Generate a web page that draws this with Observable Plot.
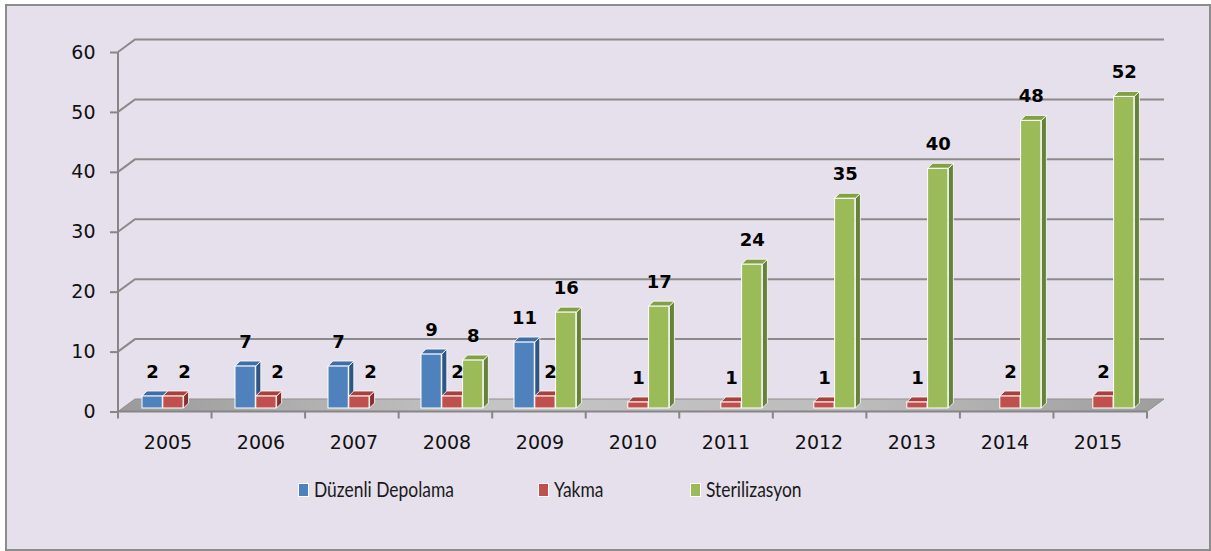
<!DOCTYPE html>
<html>
<head>
<meta charset="utf-8">
<script src="https://cdn.jsdelivr.net/npm/d3@7"></script>
<script src="https://cdn.jsdelivr.net/npm/@observablehq/plot@0.6"></script>
<style>
  html, body { margin: 0; padding: 0; background: #ffffff; }
  body { width: 1211px; height: 551px; position: relative; overflow: hidden; }
  #frame { position: absolute; left: 5px; top: 4px; width: 1202px; height: 543px;
           border: 2px solid #8c8c8c; background: #e5e0ec; }
  #chart { position: absolute; left: 0; top: 0; }
  #chart svg g[aria-label="y-axis tick"] { stroke: #868686; stroke-width: 2px; }
  #legend { position: absolute; top: 477px; left: 0; width: 1211px; height: 24px;
            font-family: Lato, sans-serif; font-size: 20.5px; color: #1a1a1a; }
  .item { position: absolute; top: 0; white-space: nowrap; line-height: 24px; }
  .sw { position: absolute; top: 6px; width: 9px; height: 12px; border: 1px solid #fff; }
  .lab { position: absolute; left: 16px; top: 0; transform: scaleX(0.85); transform-origin: 0 50%; }
</style>
</head>
<body>
<div id="frame"></div>
<div id="chart"></div>
<div id="legend"></div>
<script>
// ---- data ----
const years = ["2005","2006","2007","2008","2009","2010","2011","2012","2013","2014","2015"];
const series = ["Düzenli Depolama", "Yakma", "Sterilizasyon"];
const duzenliDepolama = [2, 7, 7, 9, 11, null, null, null, null, null, null];
const yakma           = [2, 2, 2, 2, 2, 1, 1, 1, 1, 2, 2];
const sterilizasyon   = [null, null, null, 8, 16, 17, 24, 35, 40, 48, 52];
const yTicks = [0, 10, 20, 30, 40, 50, 60];

// ---- style ----
const colors = {
  front: ["#4f81bd", "#c0504d", "#9bbb59"],
  top:   ["#3f6ea6", "#a8403d", "#83a047"],
  side:  ["#2f5583", "#84302e", "#66813a"]
};
const W = 1211, H = 470;
const mL = 118, mR = 64, mT = 52, mB = 58.5;
const bw = (W - mL - mR) / years.length;   // band width
const slot0 = 21, slotW = 20.8;             // bar slots inside a band
const lift = 3.5;                           // bars stand slightly back on the floor
const DX = 17, DY = -12.5;                  // wall depth
const bdx = 5, bdy = -5;                    // bar depth

const valuesBySeries = [duzenliDepolama, yakma, sterilizasyon];
const rows = years.flatMap((yr, i) => series.map((s, j) => ({
  year: yr, series: s, idx: j, value: valuesBySeries[j][i], yi: i
}))).filter(d => d.value != null);

function bars(j) { return rows.filter(d => d.idx === j); }

// back wall, floor, axis lines
function scene(index, scales) {
  const x = scales.x, y = scales.y;
  const [x0, x1] = x.range();
  const y0 = y(0);
  const g = d3.create("svg:g");
  const defs = g.append("defs");
  const grad = defs.append("linearGradient").attr("id", "floorGrad")
    .attr("x1", "0").attr("y1", "0").attr("x2", "1").attr("y2", "0");
  grad.append("stop").attr("offset", "0").attr("stop-color", "#9a9a9a");
  grad.append("stop").attr("offset", "0.35").attr("stop-color", "#c4c4c4");
  grad.append("stop").attr("offset", "0.7").attr("stop-color", "#bdbdbd");
  grad.append("stop").attr("offset", "1").attr("stop-color", "#9e9e9e");
  // gridlines on back wall
  for (const v of yTicks.filter(v => v > 0)) {
    g.append("path")
      .attr("d", `M${x0},${y(v)}L${x0 + DX},${y(v) + DY}L${x1 + DX},${y(v) + DY}`)
      .attr("fill", "none").attr("stroke", "#8a8a8a").attr("stroke-width", 2);
  }
  // floor
  g.append("path")
    .attr("d", `M${x0},${y0}L${x1},${y0}L${x1 + DX},${y0 + DY}L${x0 + DX},${y0 + DY}Z`)
    .attr("fill", "url(#floorGrad)").attr("stroke", "#8f8f8f").attr("stroke-width", 1);
  // axes lines
  g.append("path").attr("d", `M${x0},${y(yTicks[yTicks.length - 1])}L${x0},${y0 + 1}`)
    .attr("stroke", "#868686").attr("stroke-width", 2);
  g.append("path").attr("d", `M${x0},${y0}L${x1},${y0}`)
    .attr("stroke", "#868686").attr("stroke-width", 2);
  const step = (x1 - x0) / years.length;
  for (let k = 0; k <= years.length; k++) {
    const xx = x0 + k * step;
    g.append("path").attr("d", `M${xx},${y0}L${xx},${y0 + 7}`)
      .attr("stroke", "#868686").attr("stroke-width", 2);
  }
  return g.node();
}

// 3D side and top faces for series j
function faces(j) {
  return function (index, scales) {
    const x = scales.x, y = scales.y;
    const g = d3.create("svg:g");
    for (const d of bars(j)) {
      const xl = x(d.year) + slot0 + j * slotW;
      const xr = xl + slotW;
      const yb = y(0) - lift, yt = y(d.value) - lift;
      g.append("path")
        .attr("d", `M${xr},${yb}L${xr + bdx},${yb + bdy}L${xr + bdx},${yt + bdy}L${xr},${yt}Z`)
        .attr("fill", colors.side[j]).attr("stroke", "#fff").attr("stroke-width", 0.8);
      g.append("path")
        .attr("d", `M${xl},${yt}L${xl + bdx},${yt + bdy}L${xr + bdx},${yt + bdy}L${xr},${yt}Z`)
        .attr("fill", colors.top[j]).attr("stroke", "#fff").attr("stroke-width", 0.8);
    }
    return g.node();
  };
}

function front(j) {
  return Plot.barY(bars(j), {
    x: "year", y: "value", fill: colors.front[j], stroke: "#fff", strokeWidth: 1,
    insetLeft: slot0 + j * slotW, insetRight: bw - (slot0 + (j + 1) * slotW), dy: -lift
  });
}

const labelDy = -lift - 24.5;
function labelDx(j) { return slot0 + j * slotW + slotW / 2 - bw / 2; }
const has = (arr, i) => arr[i] != null;
const redShift = d => has(duzenliDepolama, d.yi) && !has(sterilizasyon, d.yi) ? 11
                    : has(duzenliDepolama, d.yi) && has(sterilizasyon, d.yi) ? 5 : 0;
const labelStyle = { fontFamily: "DejaVu Sans", fontWeight: "bold", fontSize: 18, fill: "#000", text: d => String(d.value) };

const labels = [
  Plot.text(bars(0), { ...labelStyle, x: "year", y: "value", dx: labelDx(0), dy: labelDy }),
  ...[11, 5, 0].map(s => Plot.text(bars(1).filter(d => redShift(d) === s),
      { ...labelStyle, x: "year", y: "value", dx: labelDx(1) + s, dy: labelDy })),
  Plot.text(bars(2), { ...labelStyle, x: "year", y: "value", dx: labelDx(2), dy: labelDy })
];

const chart = Plot.plot({
  width: W, height: H,
  marginLeft: mL, marginRight: mR, marginTop: mT, marginBottom: mB,
  style: { background: "transparent", fontFamily: "DejaVu Sans", fontSize: "19px", color: "#111", overflow: "visible" },
  x: { type: "band", domain: years, padding: 0, tickSize: 0, tickPadding: 23, label: null },
  y: { domain: [0, 60], ticks: yTicks, tickSize: 8, tickPadding: 15, label: null },
  marks: [
    scene,
    faces(0), front(0),
    faces(1), front(1),
    faces(2), front(2),
    ...labels
  ]
});
document.getElementById("chart").appendChild(chart);

// legend
const legendX = [298, 538, 690];
const legend = document.getElementById("legend");
series.forEach((s, j) => {
  const it = document.createElement("div");
  it.className = "item";
  it.style.left = legendX[j] + "px";
  it.innerHTML = `<span class="sw" style="background:${colors.front[j]}"></span><span class="lab">${s}</span>`;
  legend.appendChild(it);
});
</script>
</body>
</html>
